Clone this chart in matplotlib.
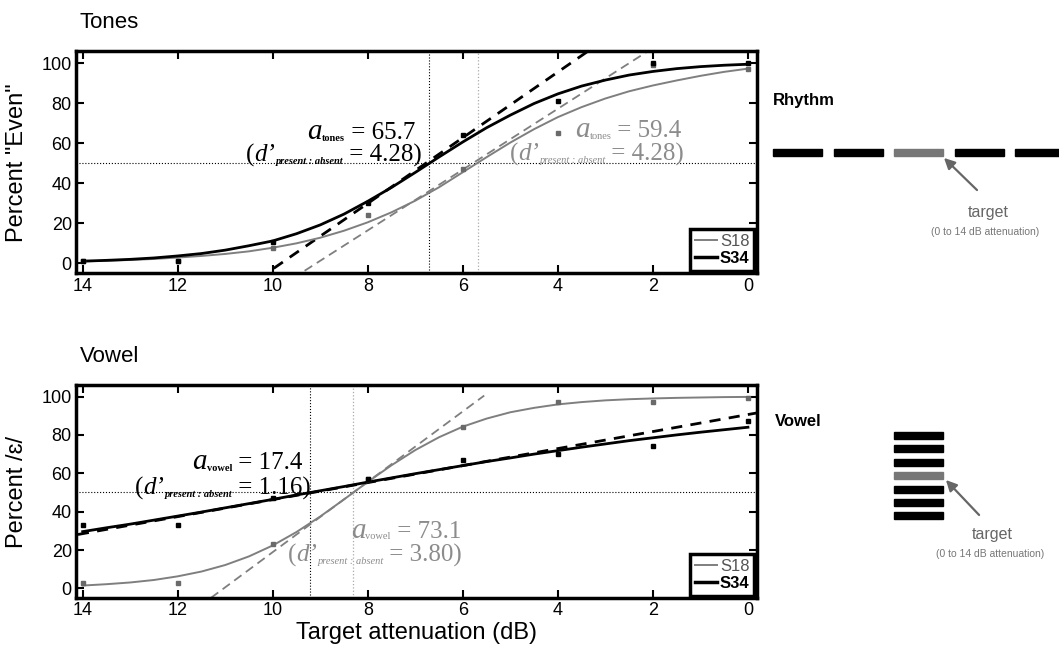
import matplotlib.pyplot as plt
from matplotlib.patches import Rectangle

plt.rcParams['font.family'] = ['Liberation Sans', 'DejaVu Sans']

GRAY = '#7f7f7f'
TEXT_GRAY = '#8c8c8c'

# attenuation levels tested (dB)
levels = [14, 12, 10, 8, 6, 4, 2, 0]

# fitted psychometric curves, read every 0.5 dB
curve_x = [14, 13.5, 13, 12.5, 12, 11.5, 11, 10.5, 10, 9.5, 9, 8.5, 8, 7.5, 7,
           6.5, 6, 5.5, 5, 4.5, 4, 3.5, 3, 2.5, 2, 1.5, 1, 0.5, 0]

tones_s34_fit = [1.1, 1.5, 2.0, 2.7, 3.7, 4.9, 6.6, 8.8, 11.2, 14.8, 19.2, 24.6, 31.0,
                 37.9, 45.4, 53.1, 60.6, 67.7, 74.0, 79.8, 84.6, 88.5, 91.5, 94.0,
                 95.8, 97.2, 98.2, 98.9, 99.4]
tones_s18_fit = [1.0, 1.3, 1.7, 2.2, 2.9, 3.7, 4.7, 6.0, 7.8, 10.0, 12.8, 16.3, 20.5,
                 25.5, 31.3, 38.0, 45.5, 53.0, 60.3, 67.0, 73.0, 78.0, 82.3, 85.9,
                 88.8, 91.3, 93.6, 95.6, 97.2]
vowel_s34_fit = [29.6, 31.6, 33.5, 35.6, 37.7, 39.8, 42.0, 44.2, 46.4, 48.7, 50.9, 53.1,
                 55.4, 57.6, 59.8, 61.9, 64.0, 66.1, 68.0, 70.0, 71.8, 73.6, 75.3,
                 77.0, 78.5, 80.0, 81.4, 82.7, 84.0]
vowel_s18_fit = [1.5, 2.2, 3.1, 4.4, 6.3, 8.8, 12.2, 16.7, 22.4, 29.4, 37.5, 46.4, 55.5,
                 64.2, 72.1, 78.8, 84.3, 88.5, 91.8, 94.1, 95.9, 97.1, 98.0, 98.6,
                 99.0, 99.3, 99.5, 99.7, 99.8]

# measured points
tones_s34_pts = [1, 1, 10.5, 30, 64, 81, 100, 100]
tones_s18_pts = [1, 1, 7.5, 24, 47, 65, 99, 97]
vowel_s34_pts = [33, 33, 47, 57, 67, 70, 74, 87]
vowel_s18_pts = [3, 3, 23, 57, 84, 97, 97, 99]

# slope lines at the 50% point (x pair, y pair)
tones_s34_tan = ([9.98, 3.36], [-2.5, 106])
tones_s18_tan = ([9.33, 2.1], [-3.7, 106])
vowel_s34_tan = ([14.1, -0.2], [28.1, 91.5])
vowel_s18_tan = ([11.3, 5.55], [-4.9, 100.5])

# 50% thresholds (dB)
tones_thr = [5.68, 6.72]   # S18, S34
vowel_thr = [8.31, 9.22]


def draw_panel(ax, fit18, fit34, pts18, pts34, tan18, tan34, thr, ylabel):
    ax.axhline(50, color='black', ls=':', lw=0.8, zorder=1)
    ax.axvline(thr[0], color='#aaaaaa', ls=':', lw=0.9, zorder=1)
    ax.axvline(thr[1], color='black', ls=':', lw=0.8, zorder=1)
    ax.plot(tan18[0], tan18[1], color=GRAY, ls='--', lw=1.3, dashes=(5, 3), zorder=2)
    ax.plot(tan34[0], tan34[1], color='black', ls='--', lw=2, dashes=(4, 3), zorder=2)
    l18, = ax.plot(curve_x, fit18, color=GRAY, lw=1.4, zorder=3, label='S18')
    l34, = ax.plot(curve_x, fit34, color='black', lw=2, zorder=3, label='S34')
    ax.plot(levels, pts18, 's', color='#6a6a6a', ms=3, zorder=4)
    ax.plot(levels, pts34, 's', color='black', ms=3, zorder=4)

    ax.set_xlim(14.14, -0.19)
    ax.set_ylim(-5, 106)
    ax.set_xticks([14, 12, 10, 8, 6, 4, 2, 0])
    ax.set_yticks([0, 20, 40, 60, 80, 100])
    ax.tick_params(direction='in', length=6, width=1.5, top=True, right=True,
                   labelsize=13, pad=3)
    for s in ax.spines.values():
        s.set_linewidth(2.5)
    ax.set_ylabel(ylabel, fontsize=17)
    ax.yaxis.set_label_coords(-0.07, 0.5)

    leg = ax.legend(handles=[l18, l34], loc='lower right', fontsize=12,
                    handlelength=1.3, handletextpad=0.2, borderpad=0.3,
                    labelspacing=0.1, borderaxespad=0.15, fancybox=False,
                    edgecolor='black', framealpha=1)
    leg.get_frame().set_linewidth(2.5)
    leg.get_lines()[1].set_linewidth(2.5)
    leg.get_texts()[0].set_color('#555555')
    leg.get_texts()[1].set_fontweight('bold')


fig = plt.figure(figsize=(10.59, 6.54), dpi=100)
ax1 = fig.add_axes([0.0718, 0.582, 0.643, 0.340])
ax2 = fig.add_axes([0.0718, 0.0856, 0.643, 0.3257])

draw_panel(ax1, tones_s18_fit, tones_s34_fit, tones_s18_pts, tones_s34_pts,
           tones_s18_tan, tones_s34_tan, tones_thr, 'Percent "Even"')
draw_panel(ax2, vowel_s18_fit, vowel_s34_fit, vowel_s18_pts, vowel_s34_pts,
           vowel_s18_tan, vowel_s34_tan, vowel_thr, 'Percent /\u025b/')
ax2.set_xlabel('Target attenuation (dB)', fontsize=17, labelpad=2)


# serif annotation built from pieces so the subscripts can be tiny
renderer = fig.canvas.get_renderer()


def rich_text(ax, x, y, pieces, ha='left', color='black'):
    items = []
    total = 0
    for s, size, style, weight, dy in pieces:
        t = ax.annotate(s, (x, y), xytext=(0, dy), textcoords='offset points',
                        fontsize=size, fontstyle=style, fontweight=weight,
                        family='Liberation Serif', color=color, va='baseline',
                        annotation_clip=False, zorder=5)
        w = t.get_window_extent(renderer).width * 72 / fig.dpi
        items.append((t, w, dy))
        total += w
    pos = -total if ha == 'right' else 0
    for t, w, dy in items:
        t.xyann = (pos, dy)
        pos += w


def a_line(sub, value, sub_weight):
    return [('a', 21, 'italic', 'normal', 0),
            (sub, 7.5, 'normal', sub_weight, -1),
            (' = ' + value, 18, 'normal', 'normal', 0)]


def d_line(value, sub_weight):
    return [('(', 18, 'normal', 'normal', 0),
            ('d\u2019', 18, 'italic', 'normal', 0),
            ('present : absent', 7.5, 'italic', sub_weight, -2),
            (' = ' + value + ')', 18, 'normal', 'normal', 0)]


rich_text(ax1, 7.0, 62, a_line('tones', '65.7', 'bold'), ha='right')
rich_text(ax1, 6.86, 51, d_line('4.28', 'bold'), ha='right')
rich_text(ax1, 3.64, 63, a_line('tones', '59.4', 'normal'), color=TEXT_GRAY)
rich_text(ax1, 5.01, 51.5, d_line('4.28', 'normal'), color=TEXT_GRAY)

rich_text(ax2, 9.37, 62, a_line('vowel', '17.4', 'bold'), ha='right')
rich_text(ax2, 9.2, 49, d_line('1.16', 'bold'), ha='right')
rich_text(ax2, 8.36, 26.3, a_line('vowel', '73.1', 'normal'), color=TEXT_GRAY)
rich_text(ax2, 9.68, 14.2, d_line('3.80', 'normal'), color=TEXT_GRAY)

fig.text(0.0755, 1 - 22 / 654, 'Tones', fontsize=16, va='center')
fig.text(0.0755, 1 - 357 / 654, 'Vowel', fontsize=16, va='center')

# stimulus sketches on the right (pixel coordinates)
ov = fig.add_axes([0, 0, 1, 1])
ov.set_xlim(0, 1059)
ov.set_ylim(654, 0)
ov.axis('off')

rhythm_tones = ['std', 'std', 'target', 'std', 'std']
vowel_bars = ['std', 'std', 'std', 'target', 'std', 'std', 'std']
bar_color = {'std': 'black', 'target': '#777777'}

ov.text(773, 100, 'Rhythm', fontsize=12, fontweight='bold', va='center')
for i, kind in enumerate(rhythm_tones):
    ov.add_patch(Rectangle((773 + i * 60.5, 148.5), 49, 7, color=bar_color[kind]))
ov.annotate('', xy=(942, 156), xytext=(979, 192),
            arrowprops=dict(arrowstyle='-|>', color='#666666', lw=1.6, mutation_scale=16))
ov.text(988, 212, 'target', fontsize=11.5, color='#666666', ha='center', va='center')
ov.text(985, 232, '(0 to 14 dB attenuation)', fontsize=7.5, color='#777777', ha='center', va='center')

ov.text(775, 422, 'Vowel', fontsize=12, fontweight='bold', va='center')
for i, kind in enumerate(vowel_bars):
    ov.add_patch(Rectangle((894, 432 + i * 13.4), 49, 7, color=bar_color[kind]))
ov.annotate('', xy=(944, 478), xytext=(981, 517),
            arrowprops=dict(arrowstyle='-|>', color='#666666', lw=1.6, mutation_scale=16))
ov.text(992, 535, 'target', fontsize=11.5, color='#666666', ha='center', va='center')
ov.text(990, 554, '(0 to 14 dB attenuation)', fontsize=7.5, color='#777777', ha='center', va='center')

plt.savefig('out.png', dpi=100)
